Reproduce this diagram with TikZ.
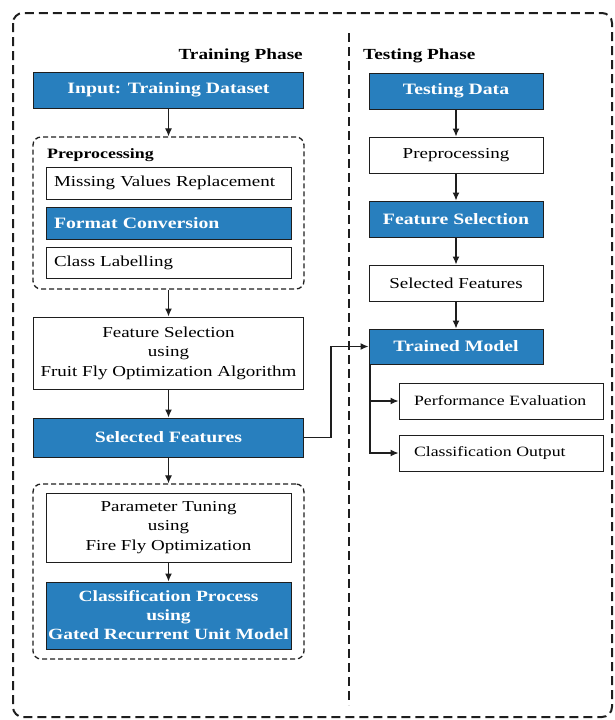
\documentclass[tikz,border=0pt]{standalone}
\usepackage{fontspec}
\setmainfont[FakeStretch=1.25]{Liberation Serif}
\usetikzlibrary{arrows.meta}
\definecolor{boxblue}{RGB}{40,127,190}
\definecolor{edge}{RGB}{30,30,30}
\begin{document}
\begin{tikzpicture}[x=1pt,y=-1pt,
 base/.style={draw=edge,line width=1pt,inner sep=0pt,align=center,font=\fontsize{15.2}{19.5}\selectfont},
 wbox/.style={base,fill=white,text=black},
 bbox/.style={base,fill=boxblue,text=white,font=\fontsize{15.8}{19.5}\selectfont\bfseries},
 lbox/.style={inner xsep=#1,align=left},
 grp/.style={draw=edge,dash pattern=on 5pt off 3pt,line width=1.3pt,rounded corners=8pt,inner sep=0pt},
 arr/.style={draw=edge,line width=1.2pt,-{Latex[length=8pt,width=7pt]}},
 head/.style={font=\fontsize{15.4}{19}\selectfont\bfseries,inner sep=0pt}]
\useasboundingbox (0,0) rectangle (614,720);
% frame and divider
\draw[edge,dash pattern=on 9pt off 5pt,line width=2pt,rounded corners=10pt] (13,13) rectangle (612,717);
\draw[edge,dash pattern=on 9pt off 5pt,line width=2pt] (349,33) -- (349,705);
% headings
\node[head,anchor=east] (trh) at (303,56) {Training Phase};
\node[head,anchor=west] (teh) at (363,56) {Testing Phase};
% training column
\node[bbox,minimum width=270pt,minimum height=36pt] (inp) at (168.5,90) {Input: Training Dataset};
\node[grp,minimum width=271pt,minimum height=152pt] (pre) at (168.5,213) {};
\node[head,font=\fontsize{14.3}{17}\selectfont\bfseries,anchor=west] (prel) at (47,155) {Preprocessing};
\node[wbox,lbox=8pt,text width=229pt,minimum height=32pt] (mv) at (168.5,183) {Missing Values Replacement};
\node[bbox,lbox=8pt,text width=229pt,minimum height=32pt] (fc) at (168.5,223) {Format Conversion};
\node[wbox,lbox=8pt,text width=229pt,minimum height=31pt] (cl) at (168.5,262.5) {Class Labelling};
\node[wbox,minimum width=270pt,minimum height=72pt] (fs) at (168.5,353) {Feature Selection\\using\\Fruit Fly Optimization Algorithm};
\node[bbox,minimum width=270pt,minimum height=39pt] (sf) at (168.5,437.5) {Selected Features};
\node[grp,minimum width=271pt,minimum height=175pt] (tr) at (168.5,571.5) {};
\node[wbox,minimum width=245pt,minimum height=69pt] (pt) at (168.5,527.5) {Parameter Tuning\\using\\Fire Fly Optimization};
\node[bbox,font=\fontsize{15.6}{19}\selectfont\bfseries,minimum width=245pt,minimum height=67pt] (cp) at (168.5,615.5) {Classification Process\\using\\Gated Recurrent Unit Model};
% testing column
\node[bbox,minimum width=174pt,minimum height=36pt] (td) at (456,91) {Testing Data};
\node[wbox,minimum width=174pt,minimum height=36pt] (tp) at (456,155) {Preprocessing};
\node[bbox,minimum width=174pt,minimum height=36pt] (tfs) at (456,219) {Feature Selection};
\node[wbox,minimum width=174pt,minimum height=36pt] (tsf) at (456,283) {Selected Features};
\node[bbox,minimum width=174pt,minimum height=35pt] (tm) at (456,346.5) {Trained Model};
\node[wbox,font=\fontsize{14.2}{17}\selectfont,lbox=15pt,text width=174pt,minimum height=36pt] (pe) at (501,401) {Performance Evaluation};
\node[wbox,font=\fontsize{14.2}{17}\selectfont,lbox=15pt,text width=174pt,minimum height=36pt] (co) at (501,453) {Classification Output};
% connectors
\draw[arr] (inp.south) -- (pre.north);
\draw[arr] (pre.south) -- (fs.north);
\draw[arr] (fs.south) -- (sf.north);
\draw[arr] (sf.south) -- (tr.north);
\draw[arr] (pt.south) -- (cp.north);
\draw[arr] (td.south) -- (tp.north);
\draw[arr] (tp.south) -- (tfs.north);
\draw[arr] (tfs.south) -- (tsf.north);
\draw[arr] (tsf.south) -- (tm.north);
\draw[arr] (sf.east) -- ++(27,0) |- (tm.west);
\coordinate (tmb) at ([xshift=1.5pt]tm.south west);
\draw[arr] (tmb) |- (pe.west);
\draw[arr] (tmb) |- (co.west);
\end{tikzpicture}
\end{document}
